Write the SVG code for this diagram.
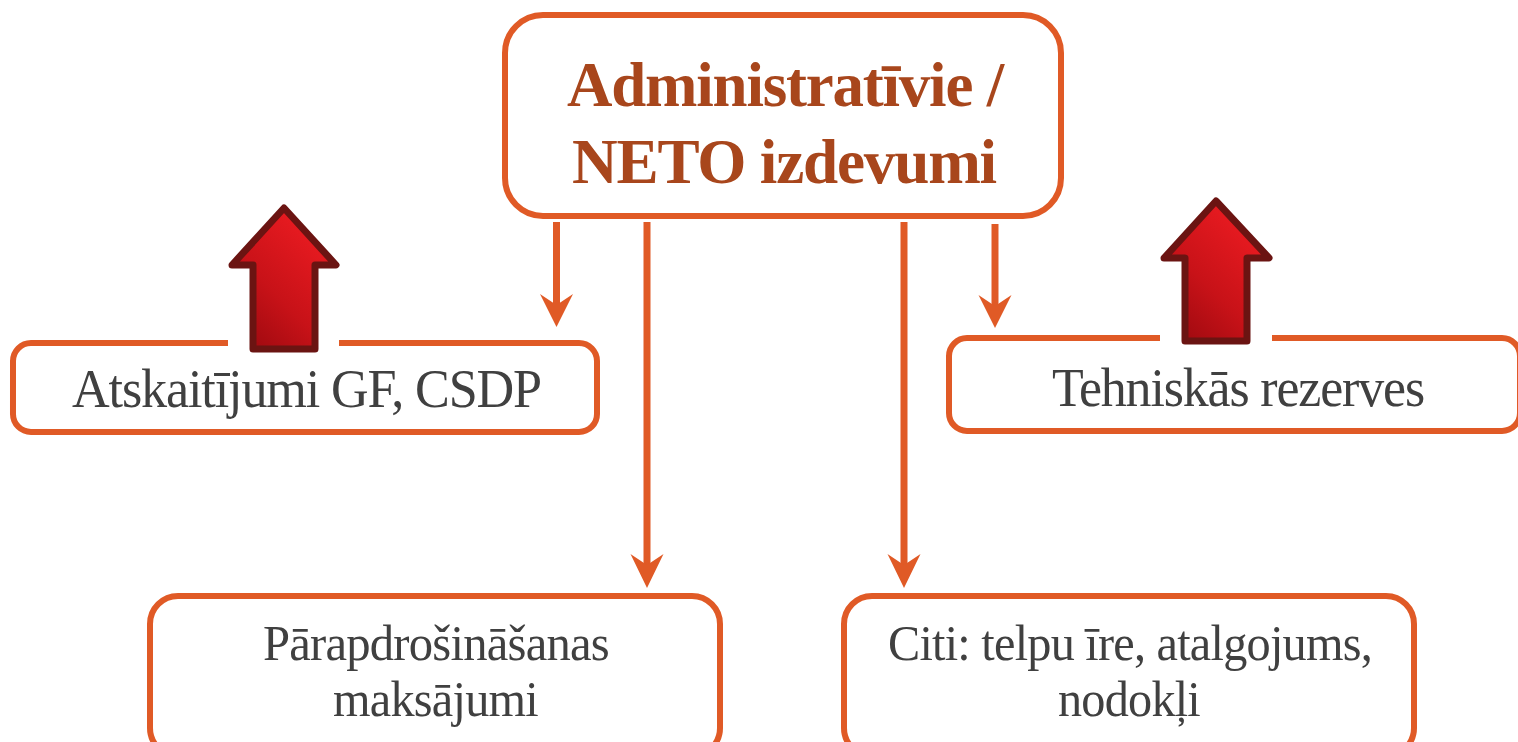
<svg xmlns="http://www.w3.org/2000/svg" width="1518" height="742" viewBox="0 0 1518 742">
<style>
.box{fill:#fff;stroke:#e05a26;stroke-width:6}
.c{fill:none;stroke:#e05a26;stroke-width:7}
.hd{fill:#e05a26}
.t{font-family:"Liberation Serif",serif;font-size:55px;fill:#404040;text-anchor:middle;letter-spacing:-1.200px}
.b{font-family:"Liberation Serif",serif;font-size:51px;fill:#404040;text-anchor:middle;letter-spacing:-0.800px}
.h{font-family:"Liberation Serif",serif;font-size:64px;font-weight:bold;fill:#a8461c;text-anchor:middle;letter-spacing:-1.200px}
.up{fill:url(#g);stroke:#6b1412;stroke-width:7;stroke-linejoin:round}
</style>
<defs>
<linearGradient id="g" x1="0.85" y1="0.1" x2="0.2" y2="1"><stop offset="0" stop-color="#ee1c22"/><stop offset="0.6" stop-color="#c81218"/><stop offset="1" stop-color="#a00a10"/></linearGradient>
</defs>
<g id="connectors">
<path class="c" d="M556.500 222V310"/><path class="hd" d="M540 294L556.500 327L573 294L556.500 305Z"/>
<path class="c" d="M647 222V570"/><path class="hd" d="M630.500 554L647 588L663.500 554L647 565Z"/>
<path class="c" d="M904 222V570"/><path class="hd" d="M887.500 554L904 588L920.500 554L904 565Z"/>
<path class="c" d="M995 224V310"/><path class="hd" d="M978.500 295L995 328L1011.500 295L995 306Z"/>
</g>
<g id="n-main"><rect class="box" x="505" y="15" width="556" height="201" rx="38"/>
<text class="h" x="785" y="106" textLength="436" lengthAdjust="spacingAndGlyphs">Administratīvie /</text><text class="h" x="784" y="183" textLength="424" lengthAdjust="spacingAndGlyphs">NETO izdevumi</text></g>
<g id="n-gf"><rect class="box" x="13" y="343" width="584" height="89" rx="18"/><text class="t" x="306.500" y="407" textLength="469" lengthAdjust="spacingAndGlyphs">Atskaitījumi GF, CSDP</text></g>
<g id="n-tr"><rect class="box" x="949" y="338" width="571" height="93" rx="18"/><text class="t" x="1238" y="406" textLength="372" lengthAdjust="spacingAndGlyphs">Tehniskās rezerves</text></g>
<g id="n-par"><rect class="box" x="150" y="596" width="570" height="160" rx="28"/><text class="b" x="436" y="660" textLength="346" lengthAdjust="spacingAndGlyphs">Pārapdrošināšanas</text><text class="b" x="435.500" y="716" textLength="205" lengthAdjust="spacingAndGlyphs">maksājumi</text></g>
<g id="n-citi"><rect class="box" x="844" y="596" width="570" height="160" rx="28"/><text class="b" x="1130" y="660" textLength="484" lengthAdjust="spacingAndGlyphs">Citi: telpu īre, atalgojums,</text><text class="b" x="1129" y="716" textLength="142" lengthAdjust="spacingAndGlyphs">nodokļi</text></g>
<g id="up-left"><path d="M228 336H339V356H228Z" fill="#fff"/><path class="up" d="M284 208L336 265H315V349H253V265H232Z"/></g>
<g id="up-right"><path d="M1160 331H1272V350H1160Z" fill="#fff"/><path class="up" d="M1216 201L1269 258H1247V341H1185V258H1164Z"/></g>
</svg>
